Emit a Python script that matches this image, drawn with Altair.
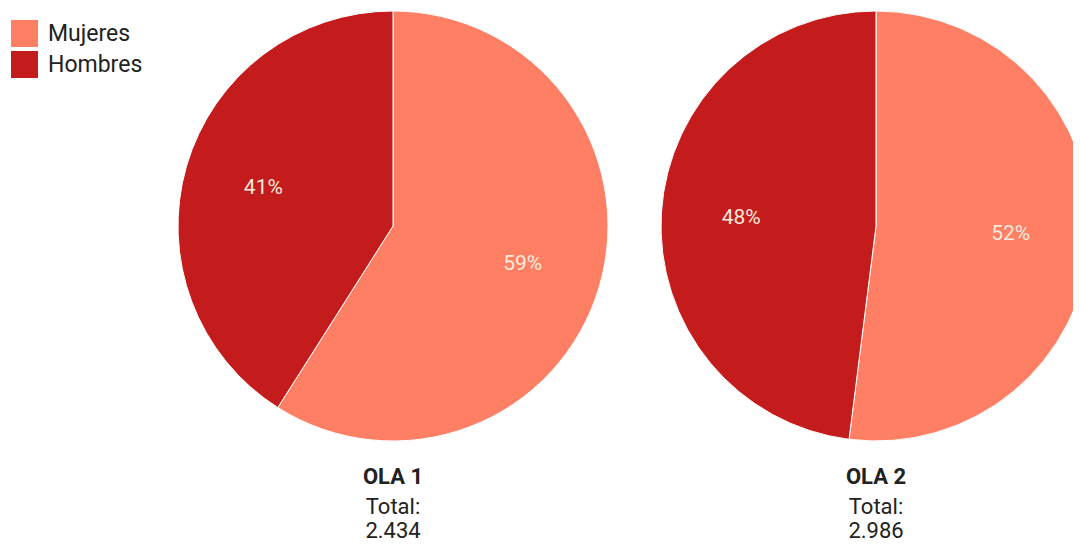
import math
import altair as alt
import pandas as pd

olas = ["OLA 1", "OLA 1", "OLA 2", "OLA 2"]
sexos = ["Mujeres", "Hombres", "Mujeres", "Hombres"]
orden = [0, 1, 0, 1]
pcts = [59, 41, 52, 48]

ola_names = ["OLA 1", "OLA 2"]
totales = ["2.434", "2.986"]

categorias = ["Mujeres", "Hombres"]
colores = ["#FF7F65", "#C41B1C"]

df = pd.DataFrame({"ola": olas, "sexo": sexos, "orden": orden, "pct": pcts})
df_tot = pd.DataFrame({"ola": ola_names, "total": totales})

FONT = "Roboto"

xscale = alt.Scale(type="point", domain=ola_names, range=[385, 868], padding=0)
tscale = alt.Scale(domain=[0, 100], range=[0, 2 * math.pi])

base = alt.Chart(df).transform_window(
    cum="sum(pct)", groupby=["ola"], sort=[alt.SortField("orden", order="ascending")]
).transform_calculate(
    start="datum.cum - datum.pct",
    mid="datum.cum - datum.pct / 2",
    label="datum.pct + '%'",
)

arcs = base.mark_arc(radius=215, stroke="white", strokeWidth=1).encode(
    x=alt.X("ola:N", scale=xscale, axis=None),
    y=alt.value(218),
    theta=alt.Theta("start:Q", scale=tscale, stack=None),
    theta2="cum:Q",
    color=alt.Color(
        "sexo:N",
        scale=alt.Scale(domain=categorias, range=colores),
        legend=alt.Legend(
            title=None,
            orient="none",
            legendX=3,
            legendY=12,
            symbolType="square",
            symbolSize=729,
            symbolStrokeWidth=0,
            symbolOpacity=1,
            labelFont=FONT,
            labelFontSize=23,
            labelColor="#222222",
            labelOffset=10,
            rowPadding=4,
            padding=0,
        ),
    ),
)

labels = base.mark_text(
    radius=135, font=FONT, fontSize=21, color="#F6EBDD", baseline="middle", align="center"
).encode(
    x=alt.X("ola:N", scale=xscale, axis=None),
    y=alt.value(218),
    theta=alt.Theta("mid:Q", scale=tscale, stack=None),
    text="label:N",
)

tbase = alt.Chart(df_tot)
t_ola = tbase.mark_text(font=FONT, fontSize=22, fontWeight="bold", color="#222222", baseline="alphabetic").encode(
    x=alt.X("ola:N", scale=xscale, axis=None), y=alt.value(476), text="ola:N"
)
t_lab = tbase.mark_text(font=FONT, fontSize=22, color="#222222", baseline="alphabetic").encode(
    x=alt.X("ola:N", scale=xscale, axis=None), y=alt.value(506), text=alt.value("Total:")
)
t_val = tbase.mark_text(font=FONT, fontSize=22, color="#222222", baseline="alphabetic").encode(
    x=alt.X("ola:N", scale=xscale, axis=None), y=alt.value(530), text="total:N"
)

chart = alt.layer(arcs, labels, t_ola, t_lab, t_val).properties(
    width=1065, height=537, autosize=alt.AutoSizeParams(type="none"), padding=0
).configure_view(stroke=None)

chart.save("out.html", embed_options={"renderer": "svg", "actions": False})
